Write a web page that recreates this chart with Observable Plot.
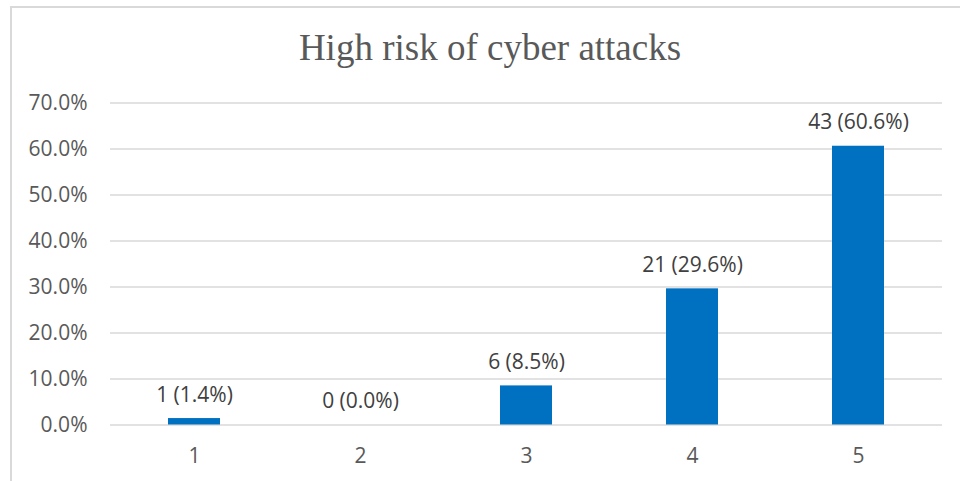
<!DOCTYPE html>
<html>
<head>
<meta charset="utf-8">
<script src="https://cdn.jsdelivr.net/npm/d3@7"></script>
<script src="https://cdn.jsdelivr.net/npm/@observablehq/plot@0.6"></script>
<style>
  html, body { margin: 0; padding: 0; background: #fff; overflow: hidden; }
  #wrap { position: relative; width: 960px; height: 481px; }
  #edge {
    position: absolute; left: 10px; top: 6px; width: 960px; height: 490px;
    border-top: 2px solid #d9d9d9; border-left: 2px solid #d9d9d9;
    box-sizing: border-box; pointer-events: none;
  }
  #title {
    box-sizing: border-box; height: 80px; padding-top: 29px;
    font-family: "Liberation Serif", "Times New Roman", serif;
    font-size: 37px; line-height: 37px; color: #595959; text-align: center;
    padding-left: 20px;
  }
  #chart svg { display: block; }
</style>
</head>
<body>
<div id="wrap">
  <div id="title">High risk of cyber attacks</div>
  <div id="chart"></div>
  <div id="edge"></div>
</div>
<script>
// Rating scale categories, respondent counts and their shares (%)
const ratings = ["1", "2", "3", "4", "5"];
const counts = [1, 0, 6, 21, 43];
const shares = [1.4, 0.0, 8.5, 29.6, 60.6];
const yTicks = [0, 10, 20, 30, 40, 50, 60, 70];

const rows = ratings.map((r, i) => ({
  rating: r,
  count: counts[i],
  share: shares[i],
  label: `${counts[i]} (${shares[i].toFixed(1)}%)`
}));

const font = "'Open Sans', 'Segoe UI', sans-serif";

const chart = Plot.plot({
  width: 960,
  height: 401,
  marginTop: 22.5,
  marginBottom: 56.5,
  marginLeft: 110,
  marginRight: 18,
  style: { fontFamily: font, fontSize: "21px", color: "#595959", background: "transparent" },
  x: { domain: ratings, paddingInner: 0.6875, paddingOuter: 0.34375, label: null },
  y: { domain: [0, 70], label: null },
  marks: [
    Plot.gridY(yTicks, { stroke: "#d9d9d9", strokeOpacity: 1, strokeWidth: 1.5 }),
    Plot.axisY(yTicks, {
      tickSize: 0, tickPadding: 23, label: null, fontSize: 21,
      tickFormat: d => d.toFixed(1) + "%", fill: "#595959"
    }),
    Plot.axisX({ tickSize: 0, tickPadding: 23.3, label: null, fontSize: 21, fill: "#595959" }),
    Plot.barY(rows, { x: "rating", y: "share", fill: "#0070C0" }),
    Plot.text(rows, {
      x: "rating", y: "share", text: "label",
      dy: -23.7, fill: "#404040", fontSize: 21
    })
  ]
});

document.getElementById("chart").appendChild(chart);
</script>
</body>
</html>
